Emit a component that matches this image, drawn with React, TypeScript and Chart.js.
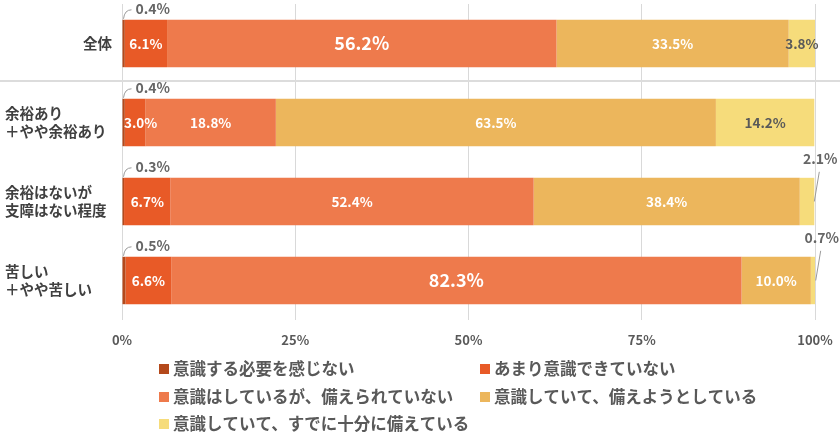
import { useEffect, useRef } from 'react';
import { Chart, registerables } from 'chart.js';

Chart.register(...registerables);

// ---- data ----
const categories: string[][] = [
  ['全体'],
  ['余裕あり', '＋やや余裕あり'],
  ['余裕はないが', '支障はない程度'],
  ['苦しい', '＋やや苦しい'],
];
const seriesNames = [
  '意識する必要を感じない',
  'あまり意識できていない',
  '意識はしているが、備えられていない',
  '意識していて、備えようとしている',
  '意識していて、すでに十分に備えている',
];
const noNeed = [0.4, 0.4, 0.3, 0.5];
const notReally = [6.1, 3.0, 6.7, 6.6];
const awareNotPrepared = [56.2, 18.8, 52.4, 82.3];
const preparing = [33.5, 63.5, 38.4, 10.0];
const prepared = [3.8, 14.2, 2.1, 0.7];
const xTicks = [0, 25, 50, 75, 100];

// ---- styles ----
const colors = ['#b4491b', '#e85a27', '#ee7a4c', '#ecb65c', '#f6dc7b'];
const FONT = "'Noto Sans CJK JP', 'Noto Sans', sans-serif";
const bigLabels = [[0, 2], [3, 2]]; // [row, series] rendered large
const legendCols = [159, 480];
const legendRows = [369, 397, 424];

const seriesData = [noNeed, notReally, awareNotPrepared, preparing, prepared];

const fmt = (v: number) => v.toFixed(1) + '%';

const separatorPlugin = {
  id: 'separator',
  beforeDatasetsDraw(chart: any) {
    const { ctx } = chart;
    const y = chart.scales.y;
    const py = (y.getPixelForValue(0) + y.getPixelForValue(1)) / 2 - 2;
    ctx.save();
    ctx.strokeStyle = '#dcdcdc';
    ctx.lineWidth = 2;
    ctx.beginPath();
    ctx.moveTo(0, py);
    ctx.lineTo(chart.width, py);
    ctx.stroke();
    ctx.restore();
  },
};

const yLabelPlugin = {
  id: 'ylabels',
  afterDraw(chart: any) {
    const { ctx } = chart;
    const y = chart.scales.y;
    ctx.save();
    ctx.font = `bold 14.5px ${FONT}`;
    ctx.fillStyle = '#404040';
    ctx.textBaseline = 'middle';
    categories.forEach((lines, i) => {
      const cy = y.getPixelForValue(i);
      const lh = 18.5;
      lines.forEach((ln, k) => {
        const ly = cy + (k - (lines.length - 1) / 2) * lh;
        if (lines.length === 1) {
          ctx.textAlign = 'right';
          ctx.fillText(ln, chart.chartArea.left - 10, ly);
        } else {
          ctx.textAlign = 'left';
          ctx.fillText(ln, 5, ly);
        }
      });
    });
    ctx.restore();
  },
};

const dataLabelPlugin = {
  id: 'dlabels',
  afterDatasetsDraw(chart: any) {
    const { ctx } = chart;
    ctx.save();
    ctx.textBaseline = 'middle';
    seriesData.forEach((arr, si) => {
      const meta = chart.getDatasetMeta(si);
      meta.data.forEach((el: any, ri: number) => {
        const v = arr[ri];
        const start = Math.min(el.x, el.base);
        const end = Math.max(el.x, el.base);
        const top = el.y - el.height / 2;
        const text = fmt(v);
        if (si === 0) {
          ctx.strokeStyle = '#9a9a9a';
          ctx.lineWidth = 1;
          ctx.beginPath();
          ctx.moveTo(start + 1, top - 1);
          ctx.quadraticCurveTo(start + 2, top - 10, start + 9, top - 10);
          ctx.stroke();
          ctx.font = `bold 14px ${FONT}`;
          ctx.fillStyle = '#666666';
          ctx.textAlign = 'left';
          ctx.fillText(text, start + 13, top - 11);
          return;
        }
        if (si === 4 && end - start < 20) {
          ctx.strokeStyle = '#9a9a9a';
          ctx.lineWidth = 1;
          ctx.beginPath();
          ctx.moveTo(end, el.y);
          ctx.lineTo(end + 5, top - 6);
          ctx.stroke();
          ctx.font = `bold 14px ${FONT}`;
          ctx.fillStyle = '#666666';
          ctx.textAlign = 'center';
          ctx.fillText(text, end + 6, top - 19);
          return;
        }
        const big = bigLabels.some(([r, s]) => r === ri && s === si);
        ctx.font = big ? `bold 18px ${FONT}` : `bold 13.5px ${FONT}`;
        ctx.fillStyle = si === 4 ? '#595959' : '#ffffff';
        const w = ctx.measureText(text).width;
        let cx = (start + end) / 2;
        if (cx - w / 2 < chart.chartArea.left + 2) cx = chart.chartArea.left + 2 + w / 2;
        ctx.textAlign = 'center';
        ctx.fillText(text, cx, el.y);
      });
    });
    ctx.restore();
  },
};

const legendPlugin = {
  id: 'customLegend',
  afterDraw(chart: any) {
    const { ctx } = chart;
    ctx.save();
    ctx.font = `bold 16.5px ${FONT}`;
    ctx.textBaseline = 'middle';
    ctx.textAlign = 'left';
    seriesNames.forEach((name, i) => {
      const x = legendCols[i % 2];
      const y = legendRows[Math.floor(i / 2)];
      ctx.fillStyle = colors[i];
      ctx.fillRect(x, y - 5, 10, 10);
      ctx.fillStyle = '#595959';
      ctx.fillText(name, x + 14, y);
    });
    ctx.restore();
  },
};

export default function App() {
  const ref = useRef<HTMLCanvasElement>(null);
  useEffect(() => {
    document.body.style.margin = '0';
    if (!ref.current) return;
    const chart = new Chart(ref.current, {
      type: 'bar',
      data: {
        labels: categories.map((c) => c.join('')),
        datasets: seriesData.map((d, i) => ({
          label: seriesNames[i],
          data: d,
          backgroundColor: colors[i],
          borderWidth: 0,
          barPercentage: 0.6,
          categoryPercentage: 1,
        })),
      },
      options: {
        indexAxis: 'y',
        responsive: false,
        animation: false,
        devicePixelRatio: 1,
        layout: { padding: { top: 4, right: 25, bottom: 86, left: 0 } },
        plugins: {
          legend: { display: false },
          tooltip: { enabled: false },
        },
        scales: {
          x: {
            stacked: true,
            min: 0,
            max: 100,
            afterBuildTicks: (s: any) => {
              s.ticks = xTicks.map((v) => ({ value: v }));
            },
            afterFit: (s: any) => {
              s.height = 30;
              s.paddingLeft = 0;
              s.paddingRight = 0;
            },
            ticks: {
              callback: (v: any) => v + '%',
              font: { family: FONT, size: 13, weight: 'bold' },
              color: '#595959',
              padding: 12,
            },
            grid: { color: '#d9d9d9', drawTicks: false, lineWidth: 1 },
            border: { display: false },
          },
          y: {
            stacked: true,
            ticks: { display: false },
            grid: { display: false },
            border: { display: false },
            afterFit: (s: any) => {
              s.width = 122;
            },
          },
        },
      },
      plugins: [separatorPlugin, dataLabelPlugin, yLabelPlugin, legendPlugin],
    } as any);
    return () => chart.destroy();
  }, []);
  return (
    <div style={{ width: 840, height: 436, background: '#fff' }}>
      <canvas ref={ref} width={840} height={436} />
    </div>
  );
}
